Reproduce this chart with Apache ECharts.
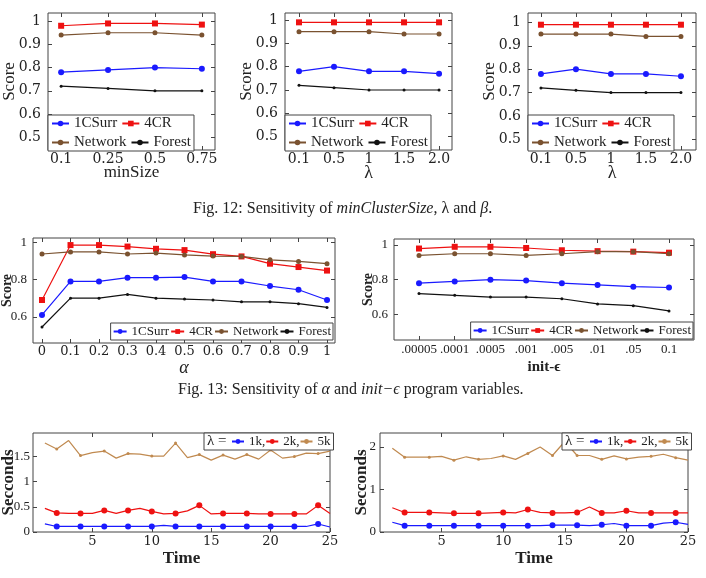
<!DOCTYPE html>
<html><head><meta charset="utf-8">
<script src="https://cdn.jsdelivr.net/npm/echarts@6/dist/echarts.min.js"></script>
<style>html,body{margin:0;padding:0;background:#fff}#c{width:706px;height:578px}</style>
</head><body><div id="c"></div>
<script>
// ---------------- data ----------------
const minSizeCats = ['0.1', '0.25', '0.5', '0.75'];
const lambdaCats = ['0.1', '0.5', '1', '1.5', '2.0'];
const betaCats = ['0.1', '0.5', '1', '1.5', '2.0'];
const alphaCats = ['0', '0.1', '0.2', '0.3', '0.4', '0.5', '0.6', '0.7', '0.8', '0.9', '1'];
const epsCats = ['.00005', '.0001', '.0005', '.001', '.005', '.01', '.05', '0.1'];
const times = [1, 2, 3, 4, 5, 6, 7, 8, 9, 10, 11, 12, 13, 14, 15, 16, 17, 18, 19, 20, 21, 22, 23, 24, 25];

const scoreTicksTop = [0.5, 0.6, 0.7, 0.8, 0.9, 1];
const scoreTicksMid = [0.6, 0.8, 1];
const secTicksLeft = [0, 0.5, 1, 1.5];
const secTicksRight = [0, 1, 2];
const timeTicks = [5, 10, 15, 20, 25];

const minSize_1CSurr = [0.78, 0.79, 0.80, 0.795];
const minSize_4CR = [0.98, 0.99, 0.99, 0.985];
const minSize_Network = [0.94, 0.95, 0.95, 0.94];
const minSize_Forest = [0.72, 0.71, 0.70, 0.70];

const lambda_1CSurr = [0.78, 0.80, 0.78, 0.78, 0.77];
const lambda_4CR = [0.99, 0.99, 0.99, 0.99, 0.99];
const lambda_Network = [0.95, 0.95, 0.95, 0.94, 0.94];
const lambda_Forest = [0.72, 0.71, 0.70, 0.70, 0.70];

const beta_1CSurr = [0.78, 0.80, 0.78, 0.78, 0.77];
const beta_4CR = [0.99, 0.99, 0.99, 0.99, 0.99];
const beta_Network = [0.95, 0.95, 0.95, 0.94, 0.94];
const beta_Forest = [0.72, 0.71, 0.70, 0.70, 0.70];

const alpha_1CSurr = [0.61, 0.79, 0.79, 0.81, 0.81, 0.813, 0.79, 0.79, 0.765, 0.745, 0.69];
const alpha_4CR = [0.69, 0.985, 0.985, 0.977, 0.965, 0.958, 0.936, 0.924, 0.885, 0.867, 0.848];
const alpha_Network = [0.937, 0.948, 0.948, 0.937, 0.942, 0.932, 0.926, 0.924, 0.906, 0.897, 0.885];
const alpha_Forest = [0.545, 0.70, 0.70, 0.72, 0.70, 0.695, 0.69, 0.68, 0.68, 0.67, 0.65];

const eps_1CSurr = [0.78, 0.79, 0.80, 0.795, 0.78, 0.77, 0.76, 0.755];
const eps_4CR = [0.98, 0.99, 0.99, 0.983, 0.97, 0.965, 0.962, 0.956];
const eps_Network = [0.94, 0.95, 0.95, 0.94, 0.95, 0.962, 0.962, 0.95];
const eps_Forest = [0.72, 0.71, 0.70, 0.70, 0.69, 0.66, 0.65, 0.62];

const timeL_1k = [0.16, 0.11, 0.11, 0.11, 0.11, 0.11, 0.11, 0.11, 0.11, 0.11, 0.13, 0.11, 0.11, 0.11, 0.11, 0.11, 0.11, 0.11, 0.11, 0.11, 0.11, 0.11, 0.11, 0.16, 0.10];
const timeL_2k = [0.47, 0.38, 0.37, 0.37, 0.37, 0.43, 0.37, 0.43, 0.47, 0.41, 0.36, 0.37, 0.42, 0.53, 0.36, 0.37, 0.37, 0.37, 0.36, 0.36, 0.36, 0.36, 0.36, 0.53, 0.37];
const timeL_5k = [1.77, 1.65, 1.82, 1.52, 1.58, 1.61, 1.47, 1.56, 1.55, 1.51, 1.51, 1.77, 1.48, 1.54, 1.43, 1.53, 1.45, 1.54, 1.45, 1.63, 1.47, 1.50, 1.57, 1.56, 1.61];

const timeR_1k = [0.23, 0.15, 0.15, 0.15, 0.15, 0.15, 0.15, 0.15, 0.15, 0.15, 0.15, 0.15, 0.15, 0.16, 0.16, 0.16, 0.15, 0.17, 0.20, 0.15, 0.15, 0.15, 0.21, 0.23, 0.18];
const timeR_2k = [0.57, 0.46, 0.46, 0.46, 0.45, 0.44, 0.44, 0.44, 0.45, 0.46, 0.45, 0.53, 0.46, 0.45, 0.45, 0.46, 0.59, 0.45, 0.45, 0.50, 0.45, 0.45, 0.45, 0.45, 0.45];
const timeR_5k = [1.97, 1.76, 1.76, 1.76, 1.78, 1.69, 1.77, 1.71, 1.73, 1.79, 1.71, 1.85, 2.00, 1.80, 2.13, 1.80, 1.80, 1.71, 1.79, 1.72, 1.76, 1.78, 1.83, 1.75, 1.69];

// ---------------- styling ----------------
const TICKF = 'DejaVu Serif';
const TXT = 'Liberation Serif';
const TXTC = '#222';
const FRAME = '#444';

const STY = {
  '1CSurr': { color: '#1a1aff', symbol: 'circle', size: 6 },
  '4CR': { color: '#ee1111', symbol: 'rect', size: 6 },
  'Network': { color: '#7a5230', symbol: 'circle', size: 5 },
  'Forest': { color: '#111111', symbol: 'circle', size: 3 },
  '1k': { color: '#1a1aff', symbol: 'circle', size: 6 },
  '2k': { color: '#ee1111', symbol: 'circle', size: 6 },
  '5k': { color: '#c08a50', symbol: 'circle', size: 3 }
};

const grids = [], xAxes = [], yAxes = [], series = [], legends = [];

function tickStyle(vals) {
  return { show: true, inside: true, length: 4, customValues: vals, lineStyle: { color: FRAME, width: 1 } };
}
const noLine = { show: false, onZero: false };

function addPanel(p) {
  const gi = grids.length;
  grids.push(Object.assign({ show: true, borderColor: FRAME, borderWidth: 1, backgroundColor: 'transparent', containLabel: false, outerBoundsMode: 'none' }, p.grid));
  xAxes.push({
    type: 'value', gridIndex: gi, position: 'bottom', min: p.xMin, max: p.xMax,
    axisLine: noLine, splitLine: { show: false }, axisTick: tickStyle(p.xTicks),
    axisLabel: { customValues: p.xTicks, formatter: p.xFmt, fontFamily: p.xLabelFont || TICKF, fontSize: p.xLabelSize, color: TXTC, margin: p.xLabelMargin, showMinLabel: true, showMaxLabel: true, hideOverlap: false },
    name: p.xName, nameLocation: 'middle', nameGap: p.xNameGap, nameMoveOverlap: false, nameTextStyle: p.xNameStyle
  });
  xAxes.push({
    type: 'value', gridIndex: gi, position: 'top', min: p.xMin, max: p.xMax,
    axisLine: noLine, splitLine: { show: false }, axisTick: tickStyle(p.xTicks),
    axisLabel: { show: false, customValues: p.xTicks }
  });
  yAxes.push({
    type: 'value', gridIndex: gi, position: 'left', min: p.yMin, max: p.yMax,
    axisLine: noLine, splitLine: { show: false }, axisTick: tickStyle(p.yTicks),
    axisLabel: { customValues: p.yTicks, formatter: v => String(v), fontFamily: p.yLabelFont || TICKF, fontSize: p.yLabelSize, color: TXTC, margin: p.yLabelMargin, showMinLabel: true, showMaxLabel: true, hideOverlap: false },
    name: p.yName, nameLocation: 'middle', nameGap: p.yNameGap, nameMoveOverlap: false, nameTextStyle: p.yNameStyle
  });
  yAxes.push({
    type: 'value', gridIndex: gi, position: 'right', min: p.yMin, max: p.yMax,
    axisLine: noLine, splitLine: { show: false }, axisTick: tickStyle(p.yTicks),
    axisLabel: { show: false, customValues: p.yTicks }
  });
  p.series.forEach(s => {
    const st = STY[s.name];
    series.push({
      type: 'line', name: s.name, xAxisIndex: 2 * gi, yAxisIndex: 2 * gi,
      data: s.data, symbol: st.symbol,
      symbolSize: s.evenOnly ? ((v, prm) => (prm.dataIndex % 2 === 1 ? st.size : 0)) : st.size,
      showSymbol: true, lineStyle: { width: 1.2, color: st.color }, itemStyle: { color: st.color },
      animation: false, silent: true
    });
  });
  if (p.legend) legends.push(p.legend);
}

const idx = (cats, vals) => cats.map((c, i) => [i, vals[i]]);
const tser = vals => times.map((t, i) => [t, vals[i]]);

const topLegend = (left, top) => ({
  left, top, width: 158, orient: 'horizontal', align: 'left',
  data: ['1CSurr', '4CR', 'Network', 'Forest'],
  itemWidth: 17, itemHeight: 7, itemGap: 4, padding: [1, 3, 1, 3],
  borderColor: FRAME, borderWidth: 1, backgroundColor: '#fff', selectedMode: false,
  textStyle: { fontFamily: TXT, fontSize: 15, color: TXTC }
});
const midLegend = (right, top) => ({
  right, top, orient: 'horizontal', align: 'left',
  data: ['1CSurr', '4CR', 'Network', 'Forest'],
  itemWidth: 13, itemHeight: 6, itemGap: 1, padding: [2, 2, 2, 2],
  borderColor: FRAME, borderWidth: 1, backgroundColor: '#fff', selectedMode: false,
  textStyle: { fontFamily: TXT, fontSize: 13, color: TXTC }
});
const botLegend = (left, top) => ({
  left, top, orient: 'horizontal', align: 'left',
  data: ['1k', '2k', '5k'],
  formatter: n => (n === '5k' ? n : n + ','),
  itemWidth: 12, itemHeight: 6, itemGap: 0, padding: [2, 3, 2, 27],
  borderColor: FRAME, borderWidth: 1, backgroundColor: '#fff', selectedMode: false,
  textStyle: { fontFamily: TXT, fontSize: 13, color: TXTC }
});

const scoreNameTop = { fontFamily: TXT, fontSize: 17, color: TXTC };
const boldName = sz => ({ fontFamily: TXT, fontSize: sz, fontWeight: 'bold', color: TXTC });

// Panel: minSize
addPanel({
  grid: { left: 48, top: 13, width: 167, height: 137 },
  xMin: -0.28, xMax: 3.28, xTicks: [0, 1, 2, 3], xFmt: v => minSizeCats[Math.round(v)],
  xName: 'minSize', xNameGap: 14, xNameStyle: { fontFamily: TXT, fontSize: 17, color: TXTC }, xLabelMargin: 2, xLabelSize: 14,
  yMin: 0.445, yMax: 1.035, yTicks: scoreTicksTop, yName: 'Score', yNameGap: 30, yNameStyle: scoreNameTop, yLabelMargin: 7, yLabelSize: 14,
  series: [
    { name: '1CSurr', data: idx(minSizeCats, minSize_1CSurr) },
    { name: '4CR', data: idx(minSizeCats, minSize_4CR) },
    { name: 'Network', data: idx(minSizeCats, minSize_Network) },
    { name: 'Forest', data: idx(minSizeCats, minSize_Forest) }
  ],
  legend: topLegend(48, 115)
});
// Panel: lambda
addPanel({
  grid: { left: 285, top: 13, width: 167, height: 137 },
  xMin: -0.4, xMax: 4.37, xTicks: [0, 1, 2, 3, 4], xFmt: v => lambdaCats[Math.round(v)],
  xName: 'λ', xNameGap: 14, xNameStyle: { fontFamily: TXT, fontSize: 18, color: TXTC }, xLabelMargin: 2, xLabelSize: 14,
  yMin: 0.443, yMax: 1.03, yTicks: scoreTicksTop, yName: 'Score', yNameGap: 30, yNameStyle: scoreNameTop, yLabelMargin: 7, yLabelSize: 14,
  series: [
    { name: '1CSurr', data: idx(lambdaCats, lambda_1CSurr) },
    { name: '4CR', data: idx(lambdaCats, lambda_4CR) },
    { name: 'Network', data: idx(lambdaCats, lambda_Network) },
    { name: 'Forest', data: idx(lambdaCats, lambda_Forest) }
  ],
  legend: topLegend(285, 115)
});
// Panel: beta
addPanel({
  grid: { left: 528, top: 13, width: 168, height: 137 },
  xMin: -0.37, xMax: 4.43, xTicks: [0, 1, 2, 3, 4], xFmt: v => betaCats[Math.round(v)],
  xName: 'λ', xNameGap: 14, xNameStyle: { fontFamily: TXT, fontSize: 18, color: TXTC }, xLabelMargin: 2, xLabelSize: 14,
  yMin: 0.455, yMax: 1.04, yTicks: scoreTicksTop, yName: 'Score', yNameGap: 30, yNameStyle: scoreNameTop, yLabelMargin: 7, yLabelSize: 14,
  series: [
    { name: '1CSurr', data: idx(betaCats, beta_1CSurr) },
    { name: '4CR', data: idx(betaCats, beta_4CR) },
    { name: 'Network', data: idx(betaCats, beta_Network) },
    { name: 'Forest', data: idx(betaCats, beta_Forest) }
  ],
  legend: topLegend(528, 115)
});
// Panel: alpha
addPanel({
  grid: { left: 33, top: 238, width: 302, height: 105 },
  xMin: -0.316, xMax: 10.28, xTicks: [0, 1, 2, 3, 4, 5, 6, 7, 8, 9, 10], xFmt: v => alphaCats[Math.round(v)],
  xName: 'α', xNameGap: 16, xNameStyle: { fontFamily: TXT, fontSize: 18, fontStyle: 'italic', color: TXTC }, xLabelMargin: 2, xLabelSize: 13,
  yMin: 0.459, yMax: 1.023, yTicks: scoreTicksMid, yName: 'Score', yNameGap: 19, yNameStyle: boldName(14), yLabelMargin: 6, yLabelSize: 13, yLabelFont: TXT,
  series: [
    { name: '1CSurr', data: idx(alphaCats, alpha_1CSurr) },
    { name: '4CR', data: idx(alphaCats, alpha_4CR) },
    { name: 'Network', data: idx(alphaCats, alpha_Network) },
    { name: 'Forest', data: idx(alphaCats, alpha_Forest) }
  ],
  legend: midLegend(373, 323)
});
// Panel: init-eps
addPanel({
  grid: { left: 394, top: 239, width: 300, height: 101 },
  xMin: -0.7, xMax: 7.7, xTicks: [0, 1, 2, 3, 4, 5, 6, 7], xFmt: v => epsCats[Math.round(v)],
  xName: 'init-ϵ', xNameGap: 20, xNameStyle: boldName(15), xLabelMargin: 3, xLabelSize: 13, xLabelFont: TXT,
  yMin: 0.452, yMax: 1.035, yTicks: scoreTicksMid, yName: 'Score', yNameGap: 19, yNameStyle: boldName(14), yLabelMargin: 6, yLabelSize: 13, yLabelFont: TXT,
  series: [
    { name: '1CSurr', data: idx(epsCats, eps_1CSurr) },
    { name: '4CR', data: idx(epsCats, eps_4CR) },
    { name: 'Network', data: idx(epsCats, eps_Network) },
    { name: 'Forest', data: idx(epsCats, eps_Forest) }
  ],
  legend: midLegend(13, 322)
});
// Panel: time left
addPanel({
  grid: { left: 33, top: 433, width: 297, height: 99 },
  xMin: 0, xMax: 25, xTicks: timeTicks, xFmt: v => String(v),
  xName: 'Time', xNameGap: 18, xNameStyle: boldName(17), xLabelMargin: 3, xLabelSize: 13,
  yMin: 0, yMax: 1.97, yTicks: secTicksLeft, yName: 'Secconds', yNameGap: 16, yNameStyle: boldName(17), yLabelMargin: 3, yLabelSize: 13, yLabelFont: TXT,
  series: [
    { name: '1k', data: tser(timeL_1k), evenOnly: true },
    { name: '2k', data: tser(timeL_2k), evenOnly: true },
    { name: '5k', data: tser(timeL_5k), evenOnly: true }
  ],
  legend: botLegend(204, 433)
});
// Panel: time right
addPanel({
  grid: { left: 380, top: 433, width: 308, height: 99 },
  xMin: 0, xMax: 25, xTicks: timeTicks, xFmt: v => String(v),
  xName: 'Time', xNameGap: 18, xNameStyle: boldName(17), xLabelMargin: 3, xLabelSize: 13,
  yMin: 0, yMax: 2.33, yTicks: secTicksRight, yName: 'Secconds', yNameGap: 10, yNameStyle: boldName(17), yLabelMargin: 4, yLabelSize: 13, yLabelFont: TXT,
  series: [
    { name: '1k', data: tser(timeR_1k), evenOnly: true },
    { name: '2k', data: tser(timeR_2k), evenOnly: true },
    { name: '5k', data: tser(timeR_5k), evenOnly: true }
  ],
  legend: botLegend(562, 433)
});

const capRich = {
  n: { fontFamily: TXT, fontSize: 16, fontWeight: 'normal', color: TXTC },
  i: { fontFamily: TXT, fontSize: 16, fontWeight: 'normal', fontStyle: 'italic', color: TXTC }
};

const option = {
  backgroundColor: '#fff',
  animation: false,
  title: [
    { left: 193, top: 201, padding: 0, text: '{n|Fig. 12: Sensitivity of }{i|minClusterSize}{n|, λ and }{i|β}{n|.}', textStyle: { fontWeight: 'normal', rich: capRich } },
    { left: 178, top: 382, padding: 0, text: '{n|Fig. 13: Sensitivity of }{i|α}{n| and }{i|init−ϵ}{n| program variables.}', textStyle: { fontWeight: 'normal', rich: capRich } }
  ],
  grid: grids, xAxis: xAxes, yAxis: yAxes, series: series, legend: legends,
  graphic: [
    { type: 'text', left: 207, top: 434, z: 100, style: { text: 'λ =', font: '15px "Liberation Serif"', fill: TXTC } },
    { type: 'text', left: 565, top: 434, z: 100, style: { text: 'λ =', font: '15px "Liberation Serif"', fill: TXTC } }
  ]
};

const chart = echarts.init(document.getElementById('c'), null, { renderer: 'canvas' });
chart.setOption(option);
</script></body></html>
